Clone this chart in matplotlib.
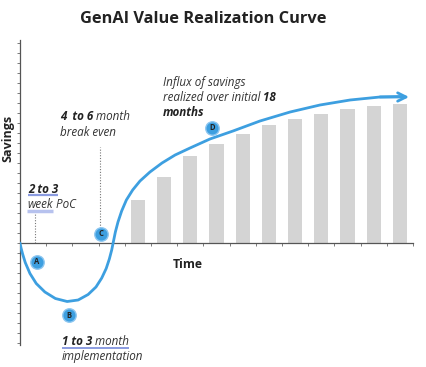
import matplotlib.pyplot as plt
from matplotlib.lines import Line2D

# bars: months of realized savings (x = bar centre, height in arbitrary savings units)
bar_x = [4.5, 5.5, 6.5, 7.5, 8.5, 9.5, 10.5, 11.5, 12.5, 13.5, 14.5]
bar_h = [4.3, 6.6, 8.7, 9.9, 10.9, 11.8, 12.4, 12.9, 13.4, 13.7, 13.9]

# value curve
curve_x = [0.00, 0.04, 0.10, 0.20, 0.38, 0.62, 0.95, 1.35, 1.80, 2.22, 2.60, 2.90,
           3.12, 3.29, 3.41, 3.50, 3.57, 3.64, 3.74, 3.88, 4.06, 4.30, 4.58, 4.96,
           5.42, 5.92, 6.49, 7.25, 8.13, 9.16, 10.31, 11.45, 12.60, 13.74, 14.50, 14.85]
curve_y = [0.0, -0.5, -1.1, -1.95, -3.05, -4.05, -4.9, -5.55, -5.85, -5.7, -5.15, -4.4,
           -3.5, -2.55, -1.6, -0.7, 0.2, 1.1, 2.1, 3.2, 4.3, 5.3, 6.2, 7.1,
           8.0, 8.8, 9.5, 10.4, 11.2, 12.2, 13.1, 13.8, 14.3, 14.6, 14.65, 14.6]

# milestone markers
mark_labels = ["A", "B", "C", "D"]
mark_x = [0.65, 1.87, 3.09, 7.33]
mark_y = [-1.9, -7.2, 0.9, 11.5]

# dotted guide lines (x, y from, y to)
guide_x = [0.57, 3.05]
guide_y0 = [0.0, 1.5]
guide_y1 = [3.1, 9.6]

blue = "#3d9fe0"
dark = "#222222"
plt.rcParams['font.family'] = ['Open Sans', 'DejaVu Sans']

fig = plt.figure(figsize=(4.27, 3.67), dpi=100)
ax = fig.add_axes([20 / 427, 22 / 367, 393 / 427, 305 / 367])
ax.set_xlim(0, 15)
ax.set_ylim(-10.2, 20.3)

ax.bar(bar_x, bar_h, width=0.54, color="#d4d4d4", zorder=1)

ax.plot(curve_x[:-1], curve_y[:-1], color=blue, lw=2.0, solid_capstyle='round',
        solid_joinstyle='round', zorder=3)
ax.annotate("", xy=(curve_x[-1], curve_y[-1]), xytext=(curve_x[-3], curve_y[-3]),
            arrowprops=dict(arrowstyle="->", color=blue, lw=2.0,
                            mutation_scale=15, shrinkA=0, shrinkB=0), zorder=3)

for gx, g0, g1 in zip(guide_x, guide_y0, guide_y1):
    ax.plot([gx, gx], [g0, g1], color="#777777", lw=0.8, ls=(0, (1, 1.5)), zorder=2)

ax.scatter(mark_x, mark_y, s=115, color="#8cc6f0", zorder=4, linewidths=0)
ax.scatter(mark_x, mark_y, s=75, color=blue, zorder=5, linewidths=0)
for lab, mx, my in zip(mark_labels, mark_x, mark_y):
    ax.text(mx, my, lab, ha='center', va='center', fontsize=5.5,
            fontweight='bold', color=dark, zorder=6)

# axes styling
for s in ["top", "right"]:
    ax.spines[s].set_visible(False)
ax.spines["left"].set_position(("data", 0))
ax.spines["bottom"].set_position(("data", 0))
for s in ["left", "bottom"]:
    ax.spines[s].set_color("#555555")
    ax.spines[s].set_linewidth(0.9)
ax.set_xticks(range(1, 16))
ax.set_yticks(range(-10, 21))
ax.tick_params(length=2.2, width=0.6, color="#666666", labelbottom=False, labelleft=False)

# text
fig.text(203.5 / 427, 1 - 19 / 367, "GenAI Value Realization Curve", ha='center',
         va='center', fontsize=11.8, fontweight='bold', color=dark)
fig.text(8 / 427, 1 - 138 / 367, "Savings", rotation=90, ha='center', va='center',
         fontsize=9, fontweight='bold', color=dark)
ax.text(6.41, -2.1, "Time", ha='center', va='center', fontsize=8.8,
        fontweight='bold', color=dark)

fs = 8.4
t23 = ax.text(0.31, 4.7, "2 to 3", fontsize=fs, fontweight='bold', style='italic',
              color=dark, va='bottom')
tweek = ax.text(0.27, 3.2, "week", fontsize=fs, style='italic', color="#333333", va='bottom')
ax.annotate(" PoC", xy=(1, 0), xycoords=tweek, fontsize=fs, style='italic',
            color="#333333", va='bottom')

t46 = ax.text(1.53, 12.0, "4  to 6", fontsize=fs, fontweight='bold', style='italic',
              color=dark, va='bottom')
ax.annotate(" month", xy=(1, 0), xycoords=t46, fontsize=fs, style='italic',
            color="#333333", va='bottom')
ax.text(1.53, 10.4, "break even", fontsize=fs, style='italic', color="#333333", va='bottom')

ax.text(5.46, 15.4, "Influx of savings", fontsize=fs, style='italic', color="#333333",
        va='bottom')
treal = ax.text(5.46, 13.9, "realized over initial", fontsize=fs, style='italic',
                color="#333333", va='bottom')
ax.annotate(" 18", xy=(1, 0), xycoords=treal, fontsize=fs, style='italic',
            fontweight='bold', color=dark, va='bottom')
ax.text(5.46, 12.4, "months", fontsize=fs, style='italic', fontweight='bold',
        color=dark, va='bottom')

t13 = ax.text(1.6, -10.5, "1 to 3", fontsize=fs, fontweight='bold', style='italic',
              color=dark, va='bottom')
tmon = ax.annotate(" month", xy=(1, 0), xycoords=t13, fontsize=fs, style='italic',
                   color="#333333", va='bottom')
ax.text(1.6, -12.0, "implementation", fontsize=fs, style='italic', color="#333333",
        va='bottom')

# highlight underlines under selected phrases
fig.canvas.draw()
r = fig.canvas.get_renderer()
inv = fig.transFigure.inverted()


def underline(first, last, dy, lw, col):
    b0 = first.get_window_extent(r)
    b1 = last.get_window_extent(r)
    (x0, y0), (x1, _) = inv.transform([(b0.x0, b0.y0 + dy), (b1.x1, b0.y0 + dy)])
    fig.add_artist(Line2D([x0, x1], [y0, y0], color=col, lw=lw, solid_capstyle='butt'))


underline(t23, t23, 1.0, 1.6, "#8a9be0")
underline(tweek, tweek, 0.5, 2.5, "#b7c2ee")
underline(t13, tmon, 0.5, 1.4, "#8a9be0")

fig.savefig("out.png", dpi=100)
